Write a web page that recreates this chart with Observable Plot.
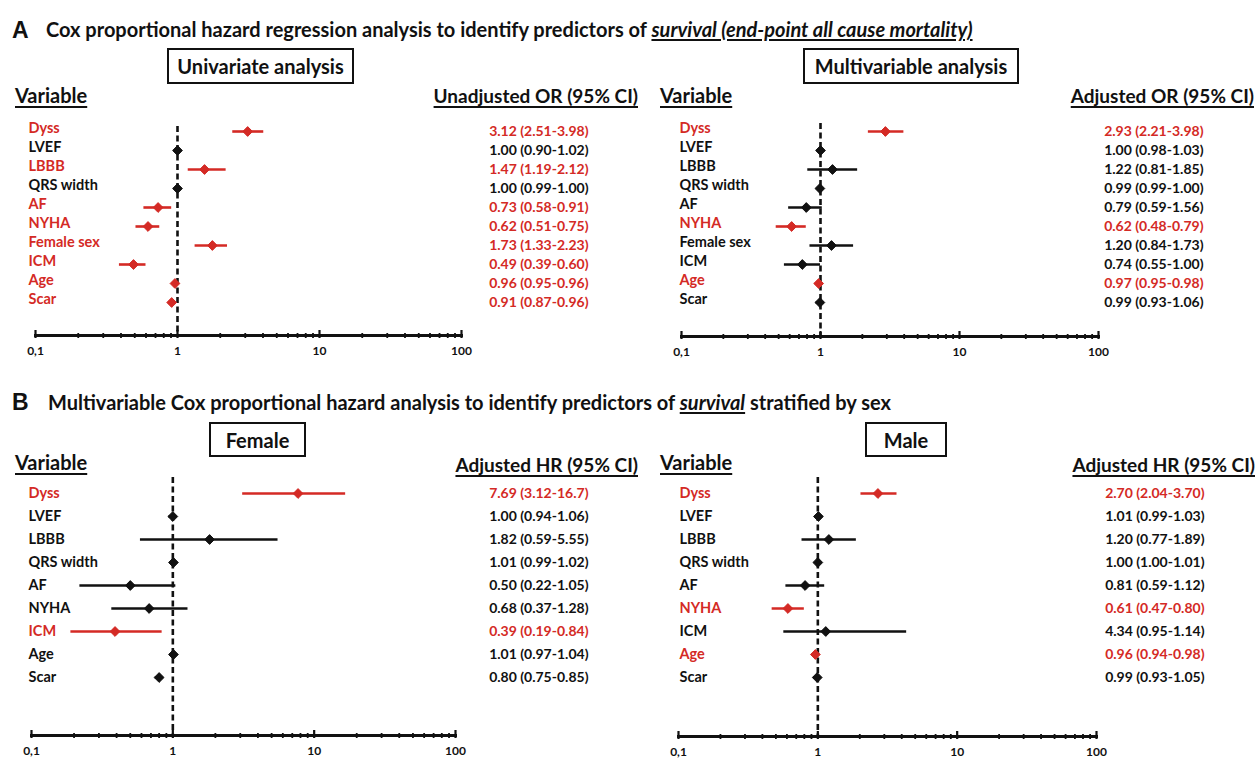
<!DOCTYPE html>
<html><head><meta charset="utf-8">
<script src="https://cdn.jsdelivr.net/npm/d3@7"></script>
<script src="https://cdn.jsdelivr.net/npm/@observablehq/plot@0.6"></script>
<style>
html,body{margin:0;padding:0;background:#fff;}
#wrap{position:relative;width:1258px;height:759px;overflow:hidden;background:#fff;color:#111;font-family:Lato,"Open Sans",sans-serif;}
.t{position:absolute;white-space:nowrap;font-weight:bold;line-height:24px;}
.letter{font-family:"Liberation Sans",Arial,sans-serif;font-size:23px;}
.title{font-size:20px;}
.title u{text-decoration-thickness:1.5px;text-underline-offset:2px;}
.box{position:absolute;border:2.5px solid #111;box-sizing:border-box;display:flex;align-items:center;justify-content:center;font-weight:bold;font-size:20px;}
.hdr{text-decoration:underline;text-decoration-thickness:2px;text-underline-offset:3px;}
.hv{font-size:20px;}
.hc{font-size:19px;}
.fig{position:absolute;}
.fig svg{overflow:visible;}
</style>
</head><body>
<div id="wrap"></div>
<script>
// ---------- data ----------
const varsA = ["Dyss","LVEF","LBBB","QRS width","AF","NYHA","Female sex","ICM","Age","Scar"];
const varsB = ["Dyss","LVEF","LBBB","QRS width","AF","NYHA","ICM","Age","Scar"];

// A: univariate (unadjusted OR)
const uniEst = [3.12,1.00,1.55,1.00,0.73,0.62,1.76,0.49,0.96,0.91];
const uniLo  = [2.45,0.97,1.19,0.98,0.58,0.51,1.33,0.39,0.95,0.87];
const uniHi  = [4.05,1.03,2.20,1.02,0.91,0.75,2.25,0.60,0.98,0.96];
const uniSig = [true,false,true,false,true,true,true,true,true,true];
const uniText = ["3.12 (2.51-3.98)","1.00 (0.90-1.02)","1.47 (1.19-2.12)","1.00 (0.99-1.00)","0.73 (0.58-0.91)","0.62 (0.51-0.75)","1.73 (1.33-2.23)","0.49 (0.39-0.60)","0.96 (0.95-0.96)","0.91 (0.87-0.96)"];

// A: multivariable (adjusted OR)
const mvEst = [2.93,1.00,1.22,0.99,0.79,0.62,1.20,0.74,0.97,0.99];
const mvLo  = [2.21,0.98,0.81,0.99,0.59,0.48,0.84,0.55,0.95,0.93];
const mvHi  = [3.98,1.03,1.85,1.00,1.03,0.79,1.73,1.00,0.98,1.06];
const mvSig = [true,false,false,false,false,true,false,false,true,false];
const mvText = ["2.93 (2.21-3.98)","1.00 (0.98-1.03)","1.22 (0.81-1.85)","0.99 (0.99-1.00)","0.79 (0.59-1.56)","0.62 (0.48-0.79)","1.20 (0.84-1.73)","0.74 (0.55-1.00)","0.97 (0.95-0.98)","0.99 (0.93-1.06)"];

// B: female (adjusted HR)
const fEst = [7.69,1.00,1.82,1.01,0.50,0.68,0.39,1.01,0.80];
const fLo  = [3.12,0.94,0.59,0.99,0.22,0.37,0.19,0.97,0.75];
const fHi  = [16.7,1.06,5.55,1.02,1.05,1.28,0.84,1.04,0.85];
const fSig = [true,false,false,false,false,false,true,false,false];
const fText = ["7.69 (3.12-16.7)","1.00 (0.94-1.06)","1.82 (0.59-5.55)","1.01 (0.99-1.02)","0.50 (0.22-1.05)","0.68 (0.37-1.28)","0.39 (0.19-0.84)","1.01 (0.97-1.04)","0.80 (0.75-0.85)"];

// B: male (adjusted HR)
const mEst = [2.70,1.01,1.20,1.00,0.81,0.61,1.14,0.96,0.99];
const mLo  = [2.04,0.99,0.77,1.00,0.59,0.47,0.57,0.94,0.93];
const mHi  = [3.70,1.03,1.89,1.01,1.12,0.80,4.34,0.98,1.05];
const mSig = [true,false,false,false,false,true,false,true,false];
const mText = ["2.70 (2.04-3.70)","1.01 (0.99-1.03)","1.20 (0.77-1.89)","1.00 (1.00-1.01)","0.81 (0.59-1.12)","0.61 (0.47-0.80)","4.34 (0.95-1.14)","0.96 (0.94-0.98)","0.99 (0.93-1.05)"];

const majorTicks = [0.1, 1, 10, 100];
const majorLabels = ["0,1", "1", "10", "100"];
const minorTicks = [0.2,0.3,0.4,0.5,0.6,0.7,0.8,0.9,2,3,4,5,6,7,8,9,20,30,40,50,60,70,80,90];

// ---------- drawing ----------
const INK = "#111111", RED = "#d42a25";
const FONT = "Lato, 'Open Sans', sans-serif";
const wrap = document.getElementById("wrap");

function addText(html, cls, left, cy, opts = {}) {
  const d = document.createElement("div");
  d.className = "t " + cls;
  d.innerHTML = html;
  d.style.top = (cy - 12) + "px";
  if (opts.right != null) d.style.right = (1258 - opts.right) + "px";
  else d.style.left = left + "px";
  wrap.appendChild(d);
  return d;
}
function addBox(text, x1, y1, x2, y2) {
  const d = document.createElement("div");
  d.className = "box";
  d.textContent = text;
  Object.assign(d.style, {left: x1 + "px", top: y1 + "px", width: (x2 - x1) + "px", height: (y2 - y1) + "px"});
  wrap.appendChild(d);
}

function panel(c) {
  const data = c.vars.map((v, i) => ({v, est: c.est[i], lo: c.lo[i], hi: c.hi[i], sig: c.sig[i], label: c.text[i]}));
  const p = Plot.plot({
    width: c.W, height: c.H,
    marginLeft: c.x0 - c.L,
    marginRight: c.W - (c.x100 - c.L),
    marginTop: c.dashTop - c.T,
    marginBottom: c.H - (c.axisY - c.T),
    x: {type: "log", domain: [0.1, 100]},
    y: {type: "point", domain: c.vars, range: [c.rowTop - c.T, c.rowBottom - c.T], padding: 0, axis: null},
    color: {domain: [false, true], range: [INK, RED]},
    style: {fontFamily: FONT, background: "transparent", color: INK},
    marks: [
      Plot.ruleX([1], {stroke: INK, strokeWidth: 2.6, strokeDasharray: "6,3.5"}),
      Plot.frame({anchor: "bottom", stroke: INK, strokeWidth: 3}),
      Plot.axisX(minorTicks, {tickSize: 5, dy: -2, strokeWidth: 1.8, stroke: INK, tickFormat: () => ""}),
      Plot.axisX(majorTicks, {tickSize: 8, dy: -5, strokeWidth: 2.2, stroke: INK, tickFormat: () => ""}),
      Plot.axisX(majorTicks, {tickSize: 0, tickPadding: 11, fontSize: 12, fontWeight: "bold", fill: INK,
        tickFormat: d => majorLabels[majorTicks.indexOf(d)]}),
      Plot.ruleY(data, {y: "v", x1: "lo", x2: "hi", stroke: "sig", strokeWidth: 2.6}),
      Plot.dot(data, {x: "est", y: "v", symbol: "diamond2", r: 4.4, fill: "sig", stroke: "sig", strokeWidth: 1}),
      Plot.text(data, {y: "v", text: "v", frameAnchor: "left", dx: c.labelX - c.x0, dy: c.labelDy, textAnchor: "start",
        fill: "sig", fontWeight: "bold", fontSize: 14.5}),
      Plot.text(data, {y: "v", text: "label", frameAnchor: "right", dx: c.valueRight - c.x100, textAnchor: "end",
        fill: "sig", fontWeight: "bold", fontSize: 14})
    ]
  });
  const d = document.createElement("div");
  d.className = "fig";
  d.style.left = c.L + "px";
  d.style.top = c.T + "px";
  d.appendChild(p);
  wrap.appendChild(d);
}

// Section A
addText("A", "letter", 12, 30);
addText("Cox proportional hazard regression analysis to identify predictors of <u><i>survival (end-point all cause mortality)</i></u>", "title", 46, 29);
addBox("Univariate analysis", 167, 48, 354, 84);
addBox("Multivariable analysis", 803, 48, 1019, 84);
addText("Variable", "hdr hv", 15, 95);
addText("Unadjusted OR (95% CI)", "hdr hc", 0, 96, {right: 638});
addText("Variable", "hdr hv", 660, 95);
addText("Adjusted OR (95% CI)", "hdr hc", 0, 96, {right: 1254});

panel({vars: varsA, est: uniEst, lo: uniLo, hi: uniHi, sig: uniSig, text: uniText,
  L: 0, T: 108, W: 640, H: 262, x0: 35, x100: 461, axisY: 335, dashTop: 126, rowTop: 128, rowBottom: 304,
  labelX: 28, labelDy: -3, valueRight: 588});
panel({vars: varsA, est: mvEst, lo: mvLo, hi: mvHi, sig: mvSig, text: mvText,
  L: 640, T: 108, W: 618, H: 262, x0: 681, x100: 1098, axisY: 336, dashTop: 123, rowTop: 127, rowBottom: 306,
  labelX: 679, labelDy: -3, valueRight: 1203});

// Section B
addText("B", "letter", 12, 402);
addText("Multivariable Cox proportional hazard analysis to identify predictors of <u><i>survival</i></u> stratified by sex", "title", 48, 402);
addBox("Female", 209, 422, 306, 457);
addBox("Male", 865, 422, 947, 457);
addText("Variable", "hdr hv", 15, 462);
addText("Adjusted HR (95% CI)", "hdr hc", 0, 465, {right: 638});
addText("Variable", "hdr hv", 660, 462);
addText("Adjusted HR (95% CI)", "hdr hc", 0, 465, {right: 1255});

panel({vars: varsB, est: fEst, lo: fLo, hi: fHi, sig: fSig, text: fText,
  L: 0, T: 472, W: 640, H: 287, x0: 31, x100: 455, axisY: 735, dashTop: 477, rowTop: 493, rowBottom: 677,
  labelX: 28, labelDy: 0, valueRight: 588});
panel({vars: varsB, est: mEst, lo: mLo, hi: mHi, sig: mSig, text: mText,
  L: 640, T: 472, W: 618, H: 287, x0: 678, x100: 1096, axisY: 736, dashTop: 477, rowTop: 493, rowBottom: 677,
  labelX: 679, labelDy: 0, valueRight: 1204});
</script>
</body></html>
